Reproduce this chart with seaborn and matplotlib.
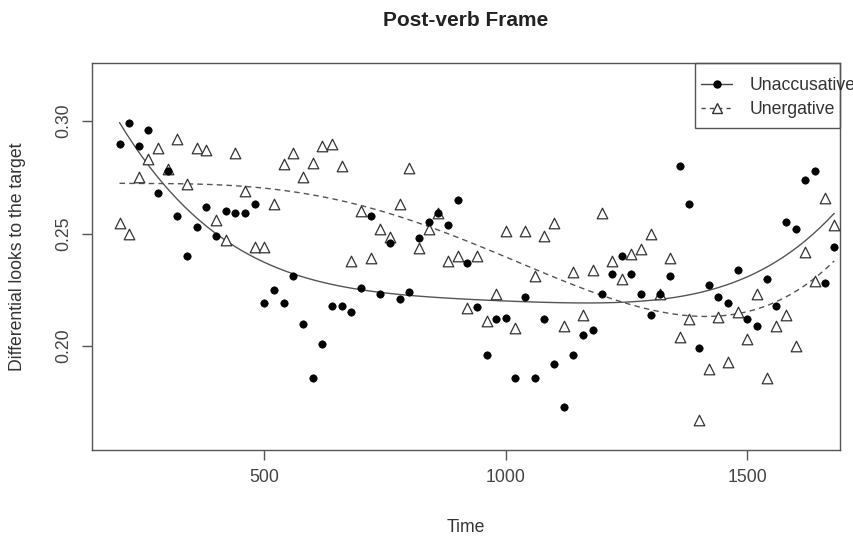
import numpy as np
import pandas as pd
import matplotlib
matplotlib.use("Agg")
import matplotlib.pyplot as plt
from matplotlib.lines import Line2D
from matplotlib.patches import Rectangle
import seaborn as sns

# ---- data ----
time = [200, 220, 240, 260, 280, 300, 320, 340, 360, 380, 400, 420, 440, 460, 480,
        500, 520, 540, 560, 580, 600, 620, 640, 660, 680, 700, 720, 740, 760, 780,
        800, 820, 840, 860, 880, 900, 920, 940, 960, 980, 1000, 1020, 1040, 1060, 1080,
        1100, 1120, 1140, 1160, 1180, 1200, 1220, 1240, 1260, 1280, 1300, 1320, 1340, 1360, 1380,
        1400, 1420, 1440, 1460, 1480, 1500, 1520, 1540, 1560, 1580, 1600, 1620, 1640, 1660, 1680]

unaccusative = [0.290, 0.299, 0.289, 0.296, 0.268, 0.278, 0.258, 0.240, 0.253, 0.262,
                0.249, 0.260, 0.259, 0.259, 0.263, 0.219, 0.225, 0.219, 0.231, 0.210,
                0.186, 0.201, 0.218, 0.218, 0.215, 0.226, 0.258, 0.223, 0.246, 0.221,
                0.224, 0.248, 0.255, 0.259, 0.254, 0.265, 0.237, 0.2175, 0.196, 0.212,
                0.2125, 0.186, 0.222, 0.186, 0.212, 0.192, 0.173, 0.196, 0.205, 0.207,
                0.223, 0.232, 0.240, 0.232, 0.223, 0.214, 0.223, 0.231, 0.280, 0.263,
                0.199, 0.227, 0.222, 0.219, 0.234, 0.212, 0.209, 0.230, 0.218, 0.255,
                0.252, 0.274, 0.278, 0.228, 0.244]

unergative = [0.2545, 0.250, 0.275, 0.283, 0.288, 0.2785, 0.292, 0.272, 0.288, 0.287,
              0.256, 0.247, 0.286, 0.269, 0.244, 0.244, 0.263, 0.281, 0.286, 0.275,
              0.2815, 0.289, 0.290, 0.280, 0.238, 0.260, 0.239, 0.252, 0.2485, 0.263,
              0.279, 0.2435, 0.252, 0.259, 0.238, 0.240, 0.217, 0.240, 0.211, 0.223,
              0.251, 0.208, 0.251, 0.231, 0.249, 0.2545, 0.209, 0.233, 0.214, 0.234,
              0.259, 0.238, 0.230, 0.241, 0.243, 0.250, 0.223, 0.239, 0.204, 0.212,
              0.167, 0.190, 0.213, 0.193, 0.215, 0.203, 0.223, 0.186, 0.209, 0.214,
              0.200, 0.242, 0.229, 0.266, 0.254]

series_names = ["Unaccusative", "Unergative"]
x_ticks = [500, 1000, 1500]
y_ticks = [0.20, 0.25, 0.30]

df_acc = pd.DataFrame({"Time": time, "Looks": unaccusative})
df_erg = pd.DataFrame({"Time": time, "Looks": unergative})

# ---- style ----
sns.set_theme(style="white")
plt.rcParams["font.family"] = ["Liberation Sans", "DejaVu Sans"]
plt.rcParams["text.color"] = "#333333"
plt.rcParams["axes.labelcolor"] = "#333333"
plt.rcParams["xtick.color"] = "#444444"
plt.rcParams["ytick.color"] = "#444444"

fig = plt.figure(figsize=(8.54, 5.37), dpi=100)
ax = fig.add_axes([92 / 854, 1 - 450 / 537, (840 - 92) / 854, (450 - 63) / 537])

line_col = "#555555"

# fitted curves (4th-order polynomial fits)
sns.regplot(data=df_acc, x="Time", y="Looks", order=4, ci=None, scatter=False,
            ax=ax, line_kws=dict(color=line_col, lw=1.0, ls="-"))
sns.regplot(data=df_erg, x="Time", y="Looks", order=4, ci=None, scatter=False,
            ax=ax, line_kws=dict(color=line_col, lw=1.0, ls=(0, (4, 3))))

# points
sns.scatterplot(data=df_erg, x="Time", y="Looks", marker="^", s=58,
                facecolor="white", edgecolor="#333333", linewidth=0.9, ax=ax, zorder=3)
sns.scatterplot(data=df_acc, x="Time", y="Looks", marker="o", s=28,
                color="black", edgecolor="black", linewidth=0.5, ax=ax, zorder=4)

ax.set_xlim(143, 1692)
ax.set_ylim(0.1538, 0.3258)
ax.set_xticks(x_ticks)
ax.set_xticklabels([str(v) for v in x_ticks])
ax.set_yticks(y_ticks)
ax.set_yticklabels([f"{v:.2f}" for v in y_ticks], rotation=90, va="center")

for sp in ax.spines.values():
    sp.set_color("#555555")
    sp.set_linewidth(1.0)
ax.tick_params(axis="both", direction="out", length=7, width=1.0, color="#555555",
               labelsize=12.7, pad=7, bottom=True, left=True)

ax.set_xlabel("Time", fontsize=12.7)
ax.set_ylabel("Differential looks to the target", fontsize=12.7)
ax.xaxis.set_label_coords(0.5, (450 - 527) / 387)
ax.xaxis.label.set_va("center")
ax.yaxis.set_label_coords((18 - 92) / 748, 0.5)
ax.yaxis.label.set_va("center")

ax.set_title("Post-verb Frame", fontsize=15, fontweight="bold", color="#222222",
             y=(450 - 20) / 387, va="center", pad=0)

# legend: box as in the reference (text overflows its right edge)
ax.add_patch(Rectangle(((695 - 92) / 748, (450 - 128) / 387), (840 - 695) / 748,
                       (128 - 63) / 387, transform=ax.transAxes, fill=False,
                       edgecolor="#555555", lw=1.0, clip_on=False, zorder=5))
handles = [
    Line2D([], [], color="#444444", lw=1.0, ls="-", marker="o", markersize=5,
           markerfacecolor="black", markeredgecolor="black"),
    Line2D([], [], color="#444444", lw=1.0, ls=(0, (3, 3)), marker="^", markersize=7,
           markerfacecolor="white", markeredgecolor="#333333"),
]
leg = ax.legend(handles, series_names, loc="upper left",
                bbox_to_anchor=((687 - 92) / 748, 1.0),
                borderaxespad=0, frameon=False, fontsize=12.7, handlelength=1.76,
                handletextpad=0.97, labelspacing=0.38, borderpad=0.8)
for t in leg.get_texts():
    t.set_color("#333333")

fig.savefig("out.png", dpi=100)
